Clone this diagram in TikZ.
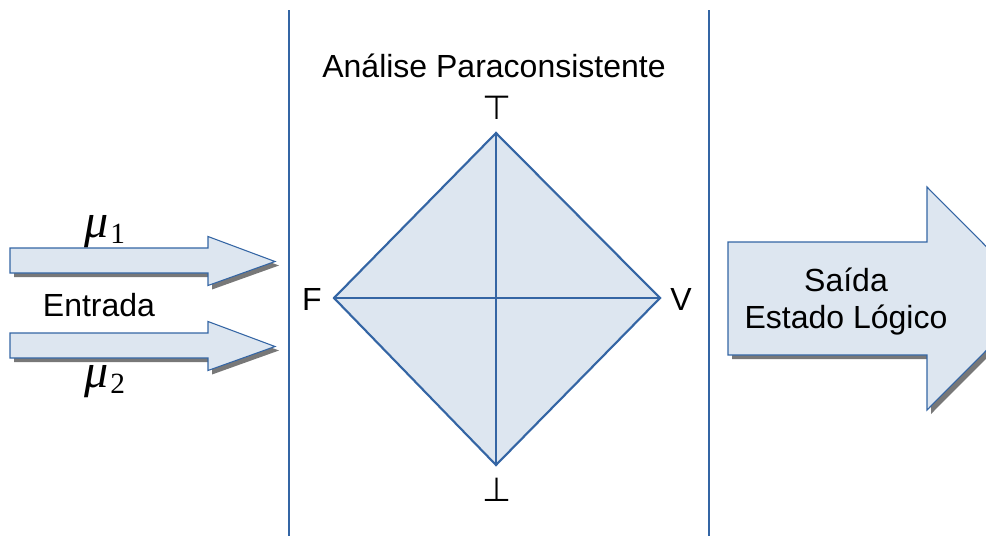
\documentclass[tikz,border=0pt]{standalone}
\usepackage{fontspec}
\setmainfont{Liberation Sans}
\newfontfamily\mySerif{Liberation Serif}
\newfontfamily\myDejaVu{DejaVu Sans}
\definecolor{lineblue}{RGB}{52,101,164}
\definecolor{fillblue}{RGB}{221,230,240}
\definecolor{shadowgray}{RGB}{120,120,120}
\newcommand{\mumark}[1]{{\mySerif\fontsize{36}{40}\selectfont\itshape μ}\kern1pt{\mySerif\fontsize{22}{24}\selectfont\raisebox{-4pt}{#1}}}
\begin{document}
\begin{tikzpicture}[x=0.75pt,y=-0.75pt,
  blk/.style={draw=lineblue,fill=fillblue,line width=0.8pt,line join=miter},
  shd/.style={fill=shadowgray,draw=none},
  sep/.style={draw=lineblue,line width=1.2pt},
  edge/.style={draw=lineblue,line width=1.6pt},
  lbl/.style={font=\fontsize{24}{28}\selectfont,inner sep=0pt},
  sym/.style={font=\myDejaVu\fontsize{25}{28}\selectfont,inner sep=0pt},
  mlbl/.style={inner sep=0pt}]
\useasboundingbox (0,0) rectangle (986,536);
\begin{scope}
\clip (0,0) rectangle (986,536);
% separators
\coordinate (s1t) at (289,10); \coordinate (s1b) at (289,536);
\coordinate (s2t) at (709,10); \coordinate (s2b) at (709,536);
\draw[sep] (s1t) -- (s1b);
\draw[sep] (s2t) -- (s2b);
% input arrows
\foreach \yc/\nm in {260.5/a, 345.5/b} {
  \fill[shd,shift={(4,4)}] (10,\yc-12.5) -- (208,\yc-12.5) -- (208,\yc-24) -- (275,\yc+1) -- (208,\yc+25) -- (208,\yc+12.5) -- (10,\yc+12.5) -- cycle;
  \path[blk] (10,\yc-12.5) -- (208,\yc-12.5) -- (208,\yc-24) -- (275,\yc+1) -- (208,\yc+25) -- (208,\yc+12.5) -- (10,\yc+12.5) -- cycle;
}
% output arrow
\fill[shd,shift={(4,4)}] (728,242) -- (927,242) -- (927,187) -- (1038,298.5) -- (927,410) -- (927,355) -- (728,355) -- cycle;
\path[blk] (728,242) -- (927,242) -- (927,187) -- (1038,298.5) -- (927,410) -- (927,355) -- (728,355) -- cycle;
% diamond
\coordinate (T) at (496,133);
\coordinate (L) at (334,298);
\coordinate (R) at (660,298);
\coordinate (B) at (496,465);
\fill[shd,shift={(4,4)}] (T) -- (R) -- (B) -- (L) -- cycle;
\path[fill=fillblue] (T) -- (R) -- (B) -- (L) -- cycle;
\draw[edge,line join=miter] (T) -- (R) -- (B) -- (L) -- cycle;
\draw[edge] (T) -- (B);
\draw[edge] (L) -- (R);
\end{scope}
% labels
\node[lbl] (title) at (494,66) {Análise Paraconsistente};
\node[sym] (top) at (497,108) {⊤};
\node[sym] (bot) at (497,490) {⊥};
\node[lbl] (F) at (312,299) {F};
\node[lbl] (V) at (681,299) {V};
\node[lbl] (entrada) at (99,305) {Entrada};
\node[mlbl] (mu1) at (105,232) {\mumark{1}};
\node[mlbl] (mu2) at (105,382) {\mumark{2}};
\node[lbl] (saida) at (846,280) {Saída};
\node[lbl] (estado) at (846,320) {Estado Lógico};
\end{tikzpicture}
\end{document}
